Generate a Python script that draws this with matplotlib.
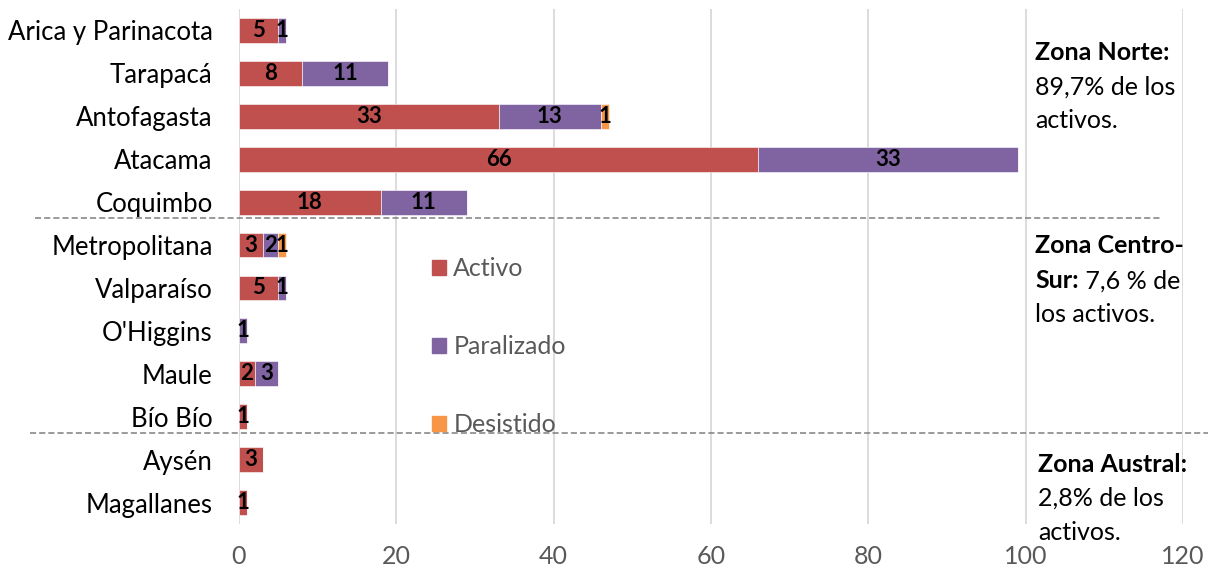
import matplotlib.pyplot as plt
import numpy as np
from matplotlib.patches import Patch

plt.rcParams['font.family'] = ['Lato', 'DejaVu Sans']

regiones = ["Arica y Parinacota", "Tarapacá", "Antofagasta", "Atacama", "Coquimbo",
            "Metropolitana", "Valparaíso", "O'Higgins", "Maule", "Bío Bío",
            "Aysén", "Magallanes"]
activo = [5, 8, 33, 66, 18, 3, 5, 0, 2, 1, 3, 1]
paralizado = [1, 11, 13, 33, 11, 2, 1, 1, 3, 0, 0, 0]
desistido = [0, 0, 1, 0, 0, 1, 0, 0, 0, 0, 0, 0]

series = [("Activo", activo, "#C0504D"),
          ("Paralizado", paralizado, "#8064A2"),
          ("Desistido", desistido, "#F79646")]

fig = plt.figure(figsize=(12.17, 5.72), dpi=100)
ax = fig.add_axes([239 / 1217, 1 - 524 / 572, 944 / 1217, 515 / 572])

y = np.arange(len(regiones))
left = np.zeros(len(regiones))
for nombre, vals, color in series:
    vals = np.array(vals)
    bars = ax.barh(y, vals, left=left, height=0.58, color=color, label=nombre,
                   edgecolor='white', linewidth=0.4, zorder=3)
    etiquetas = [str(v) if v > 0 else "" for v in vals]
    ax.bar_label(bars, labels=etiquetas, label_type='center', fontsize=16,
                 fontweight='bold', color='black', zorder=4)
    left += vals

ax.set_xlim(0, 120)
ax.set_ylim(len(regiones) - 0.5, -0.5)
ax.set_xticks(range(0, 121, 20))
ax.set_yticks(y)
ax.set_yticklabels(regiones, fontsize=18.5, color='black')
ax.tick_params(axis='x', labelsize=18, labelcolor='#595959', length=0, pad=15)
ax.tick_params(axis='y', length=0, pad=19)
ax.grid(axis='x', color='#D9D9D9', linewidth=1.3, zorder=0)
for s in ax.spines.values():
    s.set_visible(False)

# separadores de zonas
trans = ax.get_yaxis_transform()
ax.plot([-0.216, 0.976], [4.38, 4.38], transform=trans, clip_on=False,
        color='#7F7F7F', linestyle='--', linewidth=1.1, dashes=(4, 2))
ax.plot([-0.221, 1.026], [9.38, 9.38], transform=trans, clip_on=False,
        color='#7F7F7F', linestyle='--', linewidth=1.1, dashes=(4, 2))

handles = [Patch(color=c, label=n) for n, _, c in series]
leg = fig.legend(handles=handles, loc='upper left', bbox_to_anchor=(432 / 1217, 1 - 257 / 572),
                 frameon=False, fontsize=18, labelspacing=2.2, handlelength=0.55,
                 handleheight=0.55, handletextpad=0.3, borderpad=0, borderaxespad=0)
for t in leg.get_texts():
    t.set_color('#595959')

# textos de zonas
def fx(px):
    return px / 1217

def fy(py):
    return 1 - py / 572

fs = 18
fig.text(fx(1035), fy(53), "Zona Norte:", fontsize=fs, fontweight='bold', va='center')
fig.text(fx(1035), fy(87), "89,7% de los", fontsize=fs, va='center')
fig.text(fx(1035), fy(121), "activos.", fontsize=fs, va='center')

fig.text(fx(1035), fy(246), "Zona Centro-", fontsize=fs, fontweight='bold', va='center')
t_sur = fig.text(fx(1035), fy(281), "Sur:", fontsize=fs, fontweight='bold', va='center')
ax.annotate(" 7,6 % de", xy=(1, 0.5), xycoords=t_sur, fontsize=fs, va='center', ha='left')
fig.text(fx(1035), fy(315), "los activos.", fontsize=fs, va='center')

fig.text(fx(1038), fy(465), "Zona Austral:", fontsize=fs, fontweight='bold', va='center')
fig.text(fx(1038), fy(498), "2,8% de los", fontsize=fs, va='center')
fig.text(fx(1038), fy(532), "activos.", fontsize=fs, va='center')

fig.savefig("out.png", dpi=100)
